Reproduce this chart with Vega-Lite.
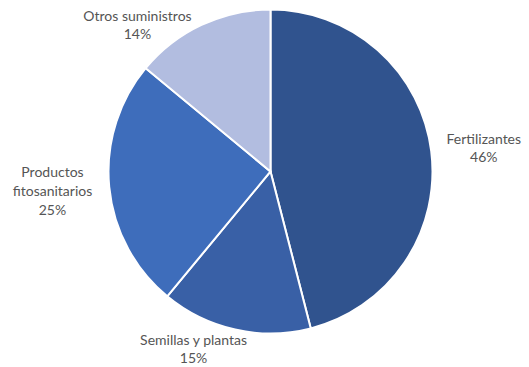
{
  "$schema": "https://vega.github.io/schema/vega-lite/v6.json",
  "width": 517,
  "height": 343,
  "autosize": "none",
  "padding": {"left": 12, "top": 0, "right": 0, "bottom": 24},
  "background": "white",
  "config": {"view": {"stroke": null}},
  "data": {
    "values": [
      {"n": 1, "cat": "Fertilizantes", "pct": 46, "label": "Fertilizantes\n46%"},
      {"n": 2, "cat": "Semillas y plantas", "pct": 15, "label": "Semillas y plantas\n15%"},
      {"n": 3, "cat": "Productos fitosanitarios", "pct": 25, "label": "Productos\nfitosanitarios\n25%"},
      {"n": 4, "cat": "Otros suministros", "pct": 14, "label": "Otros suministros\n14%"}
    ]
  },
  "encoding": {
    "theta": {"field": "pct", "type": "quantitative", "stack": true},
    "order": {"field": "n", "type": "quantitative"}
  },
  "layer": [
    {
      "mark": {"type": "arc", "outerRadius": 162, "stroke": "white", "strokeWidth": 2},
      "encoding": {
        "color": {
          "field": "cat",
          "type": "nominal",
          "legend": null,
          "scale": {
            "domain": ["Fertilizantes", "Semillas y plantas", "Productos fitosanitarios", "Otros suministros"],
            "range": ["#30538E", "#3960A6", "#3E6DBB", "#B2BDE0"]
          }
        }
      }
    },
    {
      "mark": {"type": "text", "radius": 213, "dx": 2, "dy": -5, "lineBreak": "\n", "font": "Lato", "fontSize": 14, "fill": "#555555", "align": "center", "baseline": "middle", "lineHeight": 18},
      "encoding": {"text": {"condition": {"test": "datum.n == 1", "field": "label"}, "value": ""}}
    },
    {
      "mark": {"type": "text", "radius": 183, "dx": -37, "dy": -9, "lineBreak": "\n", "font": "Lato", "fontSize": 14, "fill": "#555555", "align": "center", "baseline": "middle", "lineHeight": 18},
      "encoding": {"text": {"condition": {"test": "datum.n == 2", "field": "label"}, "value": ""}}
    },
    {
      "mark": {"type": "text", "radius": 219, "dx": 0, "dy": -19, "lineBreak": "\n", "font": "Lato", "fontSize": 14, "fill": "#555555", "align": "center", "baseline": "middle", "lineHeight": 19},
      "encoding": {"text": {"condition": {"test": "datum.n == 3", "field": "label"}, "value": ""}}
    },
    {
      "mark": {"type": "text", "radius": 175, "dx": -58.5, "dy": 4, "lineBreak": "\n", "font": "Lato", "fontSize": 14, "fill": "#555555", "align": "center", "baseline": "middle", "lineHeight": 18},
      "encoding": {"text": {"condition": {"test": "datum.n == 4", "field": "label"}, "value": ""}}
    }
  ]
}
